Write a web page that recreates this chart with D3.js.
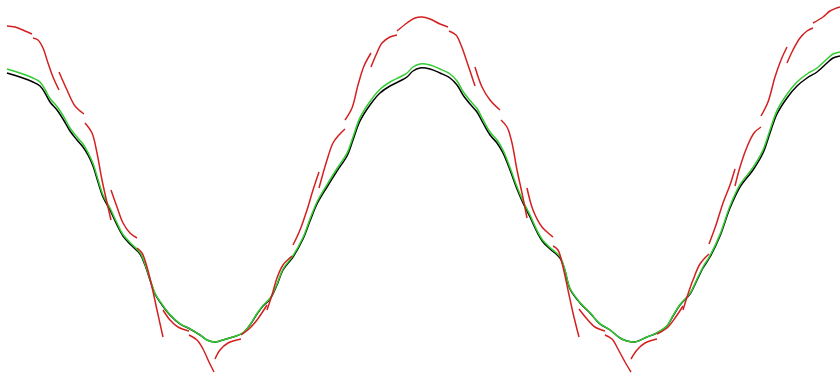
<!DOCTYPE html>
<html>
<head>
<meta charset="utf-8">
<script src="https://cdn.jsdelivr.net/npm/d3@7"></script>
<style>
  html, body { margin: 0; padding: 0; background: #fff; }
  svg { display: block; }
</style>
</head>
<body>
<div id="chart"></div>
<script>
// signal: [t, depth]
const signal = [
  [7,73],[20,77],[33,82],[40,86],[45,93],[50,102],[57,110],[63,119],[70,131],[77,140],
  [83,147],[88,155],[93,166],[98,182],[103,197],[110,210],[117,225],[123,236],[130,244],[140,254],
  [145,265],[150,280],[155,294],[160,302],[170,315],[180,324],[190,329],[200,335],[207,340],[215,342],
  [223,340],[233,337],[243,333],[250,325],[257,314],[263,306],[270,299],[277,285],[283,270],[293,257],
  [303,239],[310,221],[317,204],[327,187],[337,171],[347,156],[353,140],[360,121],[370,105],[380,93],
  [390,86],[400,81],[407,77],[413,71],[420,68],[430,69],[440,73],[450,78],[457,85],[463,95],
  [470,104],[477,112],[483,123],[490,135],[497,143],[503,153],[510,170],[517,189],[523,203],[530,217],
  [537,232],[543,242],[550,249],[560,258],[565,271],[570,289],[580,303],[590,313],[600,324],[610,330],
  [620,338],[627,341],[635,342],[647,337],[657,333],[667,326],[673,316],[680,305],[690,294],[697,280],
  [703,268],[710,257],[720,236],[730,208],[740,187],[753,170],[763,153],[770,133],[777,114],[787,98],
  [797,86],[807,78],[817,72],[827,63],[833,58],[840,56]
];

// fitted curve (green)
const fitted = [
  [7,69],[20,73],[33,78],[40,82],[45,89.5],[50,98.5],[57,106.5],[63,115.5],[70,128],[77,137],
  [83,144],[88,152.5],[93,163.5],[98,179.5],[103,195],[110,208],[117,223],[123,234.5],[130,242.5],[140,252.7],
  [145,264],[150,279],[155,293.3],[160,301.4],[170,314.6],[180,323.7],[190,328.8],[200,334.8],[207,340],[215,342],
  [223,340],[233,337],[243,332.8],[250,324.7],[257,313.5],[263,305.4],[270,298.3],[277,284],[283,269],[293,255.7],
  [303,237.5],[310,219],[317,202],[327,184.7],[337,168.5],[347,153.2],[353,137],[360,117.7],[370,101.5],[380,89.3],
  [390,82],[400,77],[407,73],[413,67],[420,64],[430,65],[440,69],[450,74],[457,81],[463,91.5],
  [470,100.5],[477,108.5],[483,119.7],[490,132],[497,140],[503,150],[510,167.5],[517,186.7],[523,201],[530,215],
  [537,230.4],[543,240.5],[550,247.6],[560,256.7],[565,270],[570,288.3],[580,302.4],[590,312.6],[600,323.7],[610,329.8],
  [620,338],[627,341],[635,342],[647,337],[657,332.9],[667,325.8],[673,315.6],[680,304.5],[690,293.3],[697,279],
  [703,267],[710,255.7],[720,234.4],[730,206],[740,184.7],[753,167.4],[763,150],[770,130],[777,110.6],[787,94.3],
  [797,82],[807,74],[817,68],[827,59],[833,54],[840,52]
];

// local pieces (red), one list per window
const pieces = [
  [[7,26],[15,27],[25,31],[32,34]],
  [[33,38],[38,40],[43,48],[48,63],[53,77],[59,90]],
  [[59,72],[67,90],[75,106],[84,114]],
  [[85,123],[92,133],[97,153],[102,180],[111,220]],
  [[111,190],[117,207],[123,223],[130,233],[137,238]],
  [[137,248],[142,253],[147,267],[152,287],[157,310],[163,337]],
  [[163,310],[170,320],[178,327],[189,331]],
  [[189,335],[197,340],[203,349],[209,362],[214,372]],
  [[215,359],[220,350],[228,343],[241,339]],
  [[241,335],[250,328],[257,320],[267,305]],
  [[267,310],[272,295],[277,278],[283,265],[292,256]],
  [[293,245],[300,230],[307,210],[313,190],[319,172]],
  [[319,188],[327,160],[333,143],[339,135],[345,129]],
  [[345,120],[352,108],[358,85],[364,66],[371,53]],
  [[371,67],[376,55],[382,43],[390,37],[397,35]],
  [[397,31],[407,23],[415,18],[422,17],[430,19],[440,24],[448,27]],
  [[449,31],[456,35],[461,45],[467,62],[475,86]],
  [[475,67],[482,87],[490,100],[500,110]],
  [[501,120],[507,127],[512,143],[517,170],[522,193],[527,218]],
  [[527,188],[533,210],[542,227],[553,237]],
  [[553,246],[558,250],[563,267],[568,290],[573,313],[579,337]],
  [[579,309],[587,319],[595,327],[605,331]],
  [[605,335],[612,339],[618,349],[625,362],[631,372]],
  [[631,359],[637,350],[645,343],[657,339]],
  [[657,334],[667,328],[675,318],[683,306]],
  [[683,310],[688,294],[693,280],[700,264],[709,254]],
  [[709,244],[716,225],[723,203],[730,185],[735,169]],
  [[735,186],[740,167],[747,147],[754,133],[761,127]],
  [[761,116],[768,102],[775,77],[781,60],[787,47]],
  [[787,63],[793,50],[800,38],[807,31],[813,28]],
  [[813,23],[823,17],[830,11],[840,7]]
];

const width = 840, height = 373;

const svg = d3.select('#chart').append('svg')
    .attr('width', width)
    .attr('height', height);

const xScale = d3.scaleLinear().domain([0, 840]).range([0, width]);
const yScale = d3.scaleLinear().domain([0, 373]).range([0, height]);

const line = d3.line()
    .x(d => xScale(d[0]))
    .y(d => yScale(d[1]))
    .curve(d3.curveCatmullRom.alpha(0.5));

svg.append('path')
    .datum(signal)
    .attr('fill', 'none')
    .attr('stroke', '#000')
    .attr('stroke-width', 1.5)
    .attr('d', line);

svg.append('path')
    .datum(fitted)
    .attr('fill', 'none')
    .attr('stroke', '#32cd32')
    .attr('stroke-width', 1.5)
    .attr('d', line);

svg.append('g').selectAll('path')
    .data(pieces)
    .join('path')
        .attr('fill', 'none')
        .attr('stroke', '#d42020')
        .attr('stroke-width', 1.5)
        .attr('d', line);
</script>
</body>
</html>
